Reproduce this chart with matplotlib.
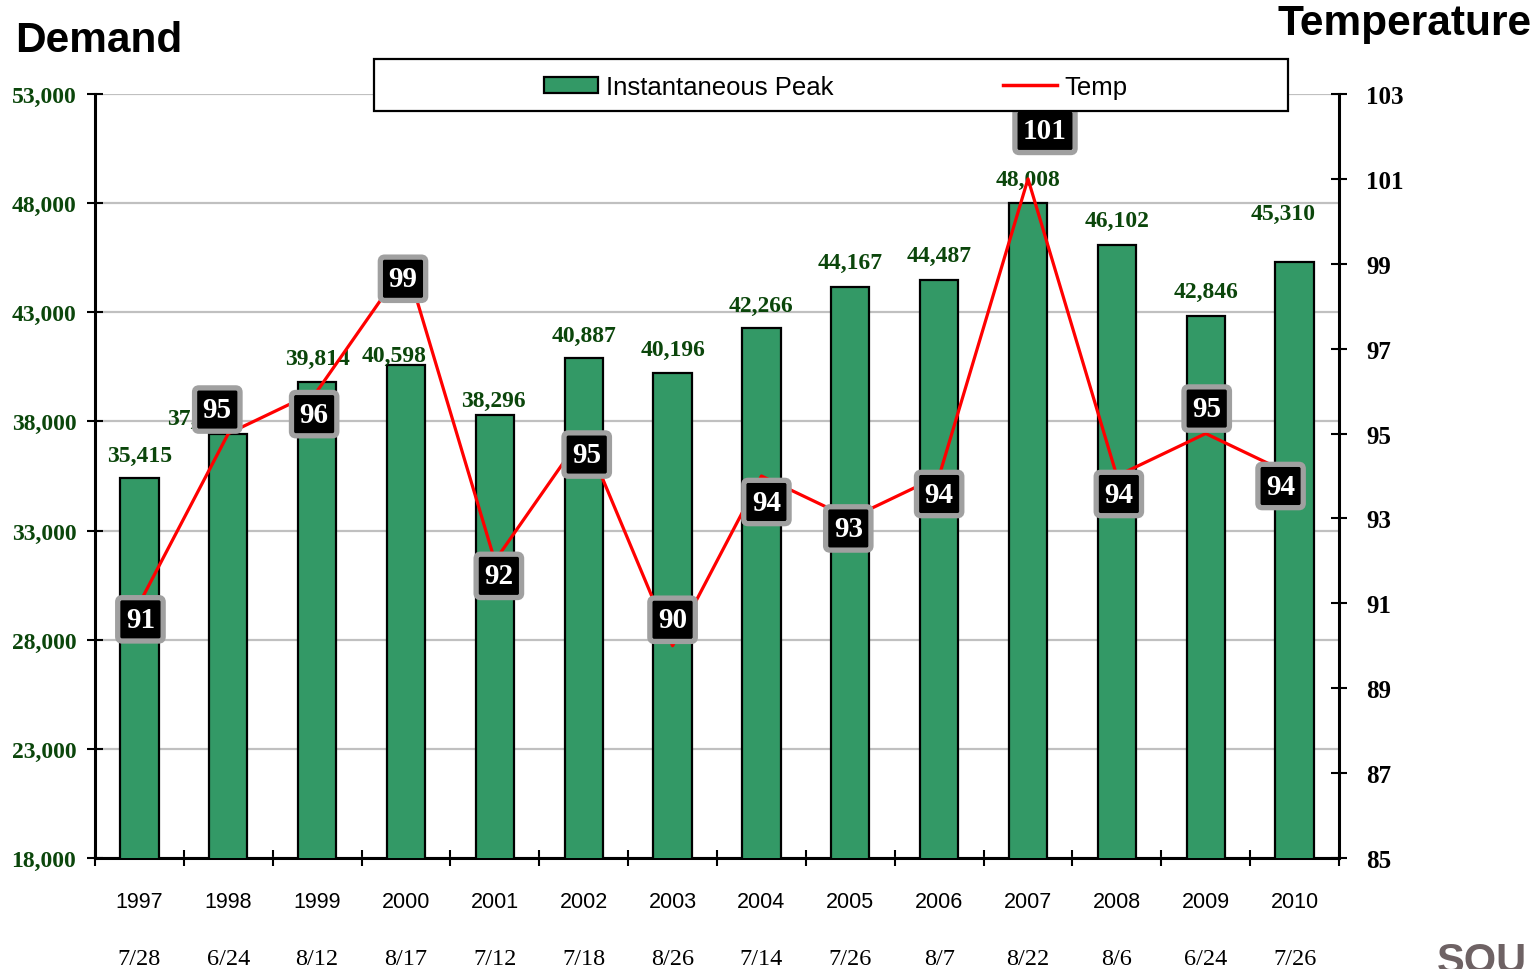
import matplotlib
matplotlib.use("Agg")
import matplotlib.pyplot as plt
from matplotlib.patches import Patch, Rectangle
from matplotlib.lines import Line2D
from matplotlib.ticker import FuncFormatter, FixedLocator
import matplotlib.transforms as mtrans

# ---------------- data ----------------
years = ["1997", "1998", "1999", "2000", "2001", "2002", "2003",
         "2004", "2005", "2006", "2007", "2008", "2009", "2010"]
dates = ["7/28", "6/24", "8/12", "8/17", "7/12", "7/18", "8/26",
         "7/14", "7/26", "8/7", "8/22", "8/6", "6/24", "7/26"]
peak = [35415, 37424, 39814, 40598, 38296, 40887, 40196,
        42266, 44167, 44487, 48008, 46102, 42846, 45310]
temp = [91, 95, 96, 99, 92, 95, 90, 94, 93, 94, 101, 94, 95, 94]
left_ticks = [18000, 23000, 28000, 33000, 38000, 43000, 48000, 53000]
right_ticks = [85, 87, 89, 91, 93, 95, 97, 99, 101, 103]

# label placement offsets (pixels)
bar_lbl_off = [(0, 22), (-29, 16), (0, 23), (-12, 9), (-1, 15), (0, 23), (0, 24),
               (0, 23), (0, 24), (0, 24), (0, 24), (0, 24), (0, 24), (-11, 48)]
tmp_lbl_off = [(1, -16), (-11, 24), (-3, -23), (-3, -15), (4, -15), (3, -21), (0, 26),
               (5, -26), (-2, -10), (0, -18), (17, 48), (2, -18), (1, 25), (-14, -10)]

# ---------------- style ----------------
W, H = 1539, 970
BAR_GREEN = "#339966"
LBL_GREEN = "#0B460B"
SERIF = ["Liberation Serif", "DejaVu Serif"]
SANS = ["Liberation Sans", "DejaVu Sans"]

fig = plt.figure(figsize=(W / 100, H / 100), dpi=100)
L, R, B, T = 95, 1339, 859, 95
ax = fig.add_axes([L / W, 1 - B / H, (R - L) / W, (B - T) / H])
ax2 = ax.twinx()

x = list(range(len(years)))
ax.bar(x, peak, width=0.43, color=BAR_GREEN, edgecolor="black", linewidth=1.6, zorder=3)
ax.set_xlim(-0.5, len(years) - 0.5)
ax.set_ylim(18000, 53000)
ax.set_yticks(left_ticks)
ax.yaxis.set_major_formatter(FuncFormatter(lambda v, p: f"{int(v):,}"))
ax.grid(axis="y", color="#C0C0C0", linewidth=1.6, zorder=0)
ax.set_axisbelow(True)
for lbl in ax.get_yticklabels():
    lbl.set_fontfamily(SERIF)
    lbl.set_fontweight("bold")
    lbl.set_fontsize(17)
    lbl.set_color(LBL_GREEN)
ax.tick_params(axis="y", direction="inout", length=11, width=1.5, pad=8)

# x ticks at category boundaries
bounds = [i - 0.5 for i in range(len(years) + 1)]
ax.xaxis.set_major_locator(FixedLocator(bounds))
ax.set_xticklabels([])
ax.tick_params(axis="x", direction="inout", length=11, width=1.5)

for s in ["top", "right"]:
    ax.spines[s].set_visible(False)
ax.spines["left"].set_linewidth(2.2)
ax.spines["bottom"].set_linewidth(2.2)

# x category labels
tr = mtrans.blended_transform_factory(ax.transData, ax.transAxes)
for i in x:
    ax.text(i, -(903 - B) / (B - T), years[i], transform=tr, ha="center", va="center",
            fontsize=15.5, family=SANS)
    ax.text(i, -(960 - B) / (B - T), dates[i], transform=tr, ha="center", va="center",
            fontsize=17.5, family=SERIF)

# bar value labels
for i in x:
    dx, dy = bar_lbl_off[i]
    ax.annotate(f"{peak[i]:,}", (i, peak[i]), xytext=(dx, dy), textcoords="offset pixels",
                ha="center", va="center", fontsize=17, family=SERIF, fontweight="bold",
                color=LBL_GREEN, zorder=4)

# temperature line
ax2.plot(x, temp, color="red", linewidth=2.3, zorder=3)
ax2.set_ylim(85, 103)
ax2.set_yticks(right_ticks)
for s in ["top", "left", "bottom"]:
    ax2.spines[s].set_visible(False)
ax2.spines["right"].set_linewidth(2.2)
ax2.tick_params(axis="y", direction="inout", length=11, width=1.5, pad=14)
for lbl in ax2.get_yticklabels():
    lbl.set_fontfamily(SERIF)
    lbl.set_fontweight("bold")
    lbl.set_fontsize(18)
    lbl.set_color("black")

for i in x:
    dx, dy = tmp_lbl_off[i]
    ax2.annotate(str(temp[i]), (i, temp[i]), xytext=(dx, dy), textcoords="offset pixels",
                 ha="center", va="center", fontsize=21, family=SERIF, fontweight="bold",
                 color="white", zorder=5,
                 bbox=dict(boxstyle="round,pad=0.28,rounding_size=0.15", facecolor="black",
                           edgecolor="#A0A0A0", linewidth=3.8))

# titles
fig.text(15 / W, 1 - 41 / H, "Demand", fontsize=30.5, fontweight="bold", family=SANS,
         ha="left", va="center")
fig.text(1532 / W, 1 - 24 / H, "Temperature", fontsize=30.5, fontweight="bold", family=SANS,
         ha="right", va="center")

# legend box
fig.patches.append(Rectangle((374 / W, 1 - 112 / H), (1288 - 374) / W, (112 - 60) / H,
                             transform=fig.transFigure, facecolor="white", edgecolor="black",
                             linewidth=1.6, zorder=4))
handles = [Patch(facecolor=BAR_GREEN, edgecolor="black", linewidth=1.6, label="Instantaneous Peak"),
           Line2D([0], [0], color="red", linewidth=2.5, label="Temp")]
leg = fig.legend(handles=handles, loc="center", bbox_to_anchor=(836 / W, 1 - 88 / H), ncol=2,
                 frameon=False, prop={"family": SANS, "size": 18.5}, columnspacing=6.6,
                 handlelength=2.1, handleheight=0.6, handletextpad=0.3)
leg.set_zorder(6)

# logo fragment
fig.text(1437 / W, 1 - 942 / H, "SOU", fontsize=30, fontweight="bold", family=SANS,
         color="#6E6264", ha="left", va="top")

fig.savefig("out.png", dpi=100)
